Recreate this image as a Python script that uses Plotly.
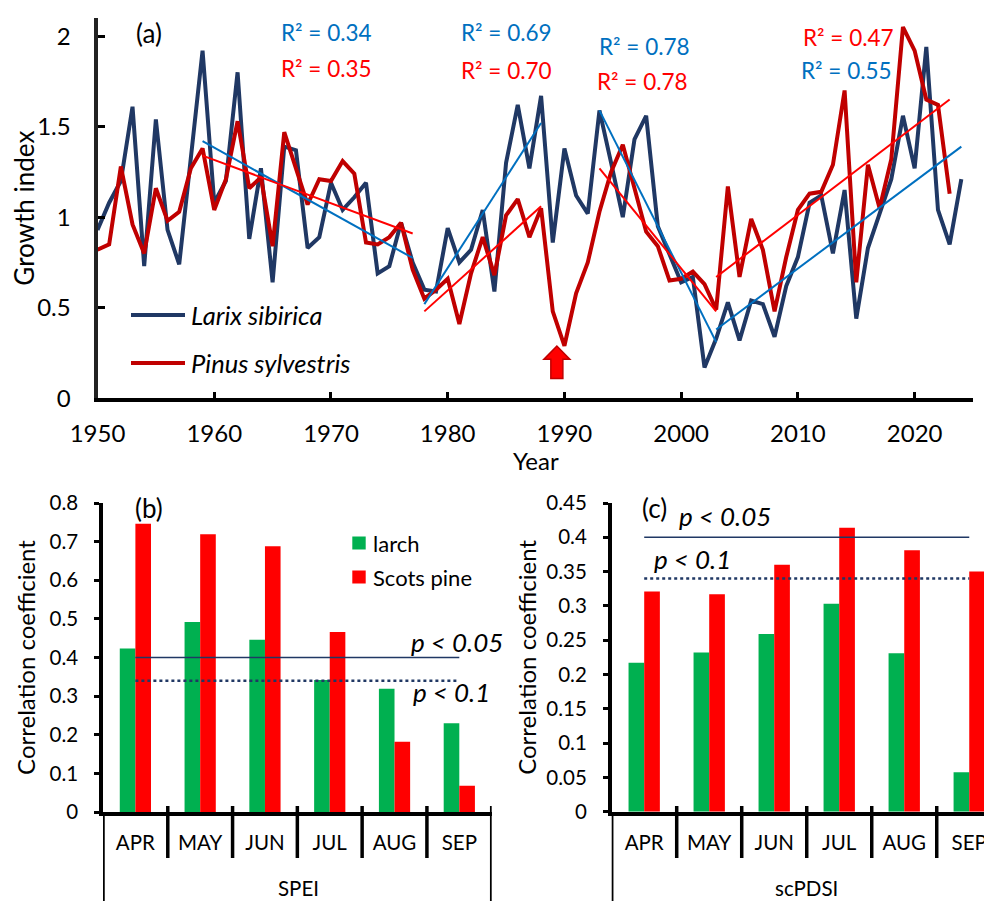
import plotly.graph_objects as go

# ---------------- data: panel (a) ----------------
years_larix = list(range(1950, 2025))
larix = [0.93, 1.08, 1.20, 1.61, 0.73, 1.54, 0.93, 0.74, 1.33, 1.92,
         1.08, 1.20, 1.80, 0.88, 1.27, 0.64, 1.39, 1.37, 0.83, 0.89,
         1.19, 1.04, 1.11, 1.19, 0.69, 0.73, 0.97, 0.75, 0.60, 0.59,
         0.94, 0.75, 0.82, 1.04, 0.59, 1.30, 1.62, 1.27, 1.67, 0.86,
         1.38, 1.12, 1.02, 1.59, 1.30, 1.00, 1.43, 1.56, 0.95, 0.80,
         0.64, 0.67, 0.17, 0.33, 0.53, 0.32, 0.54, 0.52, 0.34, 0.62,
         0.78, 1.08, 1.12, 0.80, 1.15, 0.44, 0.83, 1.02, 1.21, 1.56,
         1.27, 1.94, 1.04, 0.85, 1.21]
years_pinus = list(range(1950, 2024))
pinus = [0.82, 0.85, 1.28, 0.96, 0.80, 1.16, 0.98, 1.03, 1.27, 1.38,
         1.04, 1.21, 1.53, 1.16, 1.22, 0.84, 1.47, 1.27, 1.07, 1.21,
         1.20, 1.31, 1.24, 0.86, 0.85, 0.89, 0.97, 0.71, 0.55, 0.60,
         0.66, 0.41, 0.69, 0.89, 0.68, 1.01, 1.10, 0.89, 1.05, 0.48,
         0.29, 0.58, 0.75, 1.03, 1.25, 1.40, 1.15, 0.92, 0.84, 0.65,
         0.66, 0.70, 0.63, 0.49, 1.17, 0.67, 0.99, 0.82, 0.48, 0.78,
         1.04, 1.13, 1.14, 1.29, 1.70, 0.64, 1.29, 1.05, 1.32, 2.05,
         1.92, 1.65, 1.62, 1.13]

# linear trends (segment start/end years and fitted values)
larix_trend_x0 = [1959, 1978, 1993, 2003]
larix_trend_x1 = [1977, 1988, 2003, 2024]
larix_trend_y0 = [1.42, 0.52, 1.59, 0.38]
larix_trend_y1 = [0.775, 1.52, 0.31, 1.39]
pinus_trend_x0 = [1959, 1978, 1993, 2003]
pinus_trend_x1 = [1977, 1988, 2003, 2023]
pinus_trend_y0 = [1.34, 0.48, 1.27, 0.67]
pinus_trend_y1 = [0.91, 1.06, 0.48, 1.65]

larix_r2 = ["0.34", "0.69", "0.78", "0.55"]
pinus_r2 = ["0.35", "0.70", "0.78", "0.47"]
larix_r2_x = [1969.6, 1985.0, 1996.9, 2014.2]
larix_r2_y = [2.02, 2.02, 1.94, 1.81]
pinus_r2_x = [1969.6, 1985.0, 1996.65, 2014.3]
pinus_r2_y = [1.82, 1.81, 1.75, 1.99]

# ---------------- data: panels (b) and (c) ----------------
months = ["APR", "MAY", "JUN", "JUL", "AUG", "SEP"]
spei_larch = [0.423, 0.492, 0.446, 0.342, 0.319, 0.230]
spei_pine = [0.746, 0.719, 0.688, 0.466, 0.182, 0.068]
pdsi_larch = [0.217, 0.232, 0.259, 0.303, 0.231, 0.0575]
pdsi_pine = [0.321, 0.317, 0.360, 0.414, 0.381, 0.350]
p05_level = 0.40
p10_level = 0.34

NAVY = "#203864"
DRED = "#C00000"
TBLUE = "#0070C0"
TRED = "#FF0000"
GREEN = "#00B050"
FONT = "Lato"

# the page body has an 8px margin, so the figure is drawn 8px smaller and
# all positions below are given in window pixels of the 992x901 reference
OFF = 8
W, H = 992 - OFF, 901 - OFF


def px(x):
    return (x - OFF) / W


def py(y):
    return 1 - (y - OFF) / H


fig = go.Figure()

# ---- panel (a) lines ----
fig.add_trace(go.Scatter(x=years_larix, y=larix, mode="lines",
                         line=dict(color=NAVY, width=4), name="Larix sibirica",
                         xaxis="x", yaxis="y", showlegend=False))
fig.add_trace(go.Scatter(x=years_pinus, y=pinus, mode="lines",
                         line=dict(color=DRED, width=4), name="Pinus sylvestris",
                         xaxis="x", yaxis="y", showlegend=False))
for i in range(len(larix_trend_x0)):
    fig.add_trace(go.Scatter(x=[larix_trend_x0[i], larix_trend_x1[i]],
                             y=[larix_trend_y0[i], larix_trend_y1[i]],
                             mode="lines", line=dict(color=TBLUE, width=2),
                             xaxis="x", yaxis="y", showlegend=False))
    fig.add_trace(go.Scatter(x=[pinus_trend_x0[i], pinus_trend_x1[i]],
                             y=[pinus_trend_y0[i], pinus_trend_y1[i]],
                             mode="lines", line=dict(color=TRED, width=2),
                             xaxis="x", yaxis="y", showlegend=False))

# ---- panel (b) bars ----
fig.add_trace(go.Bar(x=months, y=spei_larch, marker=dict(color=GREEN, line=dict(width=0)),
                     name="larch", xaxis="x2", yaxis="y2", offsetgroup="a", showlegend=False))
fig.add_trace(go.Bar(x=months, y=spei_pine, marker=dict(color=TRED, line=dict(width=0)),
                     name="Scots pine", xaxis="x2", yaxis="y2", offsetgroup="b", showlegend=False))
fig.add_trace(go.Scatter(x=[months[0], months[-1]], y=[p05_level, p05_level], mode="lines",
                         line=dict(color=NAVY, width=1.5), xaxis="x2", yaxis="y2", showlegend=False))
fig.add_trace(go.Scatter(x=[months[0], months[-1]], y=[p10_level, p10_level], mode="lines",
                         line=dict(color=NAVY, width=2.5, dash="dot"), xaxis="x2", yaxis="y2",
                         showlegend=False))

# ---- panel (c) bars ----
fig.add_trace(go.Bar(x=months, y=pdsi_larch, marker=dict(color=GREEN, line=dict(width=0)),
                     name="larch", xaxis="x3", yaxis="y3", offsetgroup="a", showlegend=False))
fig.add_trace(go.Bar(x=months, y=pdsi_pine, marker=dict(color=TRED, line=dict(width=0)),
                     name="Scots pine", xaxis="x3", yaxis="y3", offsetgroup="b", showlegend=False))
fig.add_trace(go.Scatter(x=[months[0], months[-1]], y=[p05_level, p05_level], mode="lines",
                         line=dict(color=NAVY, width=1.5), xaxis="x3", yaxis="y3", showlegend=False))
fig.add_trace(go.Scatter(x=[months[0], months[-1]], y=[p10_level, p10_level], mode="lines",
                         line=dict(color=NAVY, width=2.5, dash="dot"), xaxis="x3", yaxis="y3",
                         showlegend=False))

tickfont_a = dict(family=FONT, size=24, color="black")
tickfont_b = dict(family=FONT, size=20.5, color="black")

fig.update_layout(
    template="none",
    width=W, height=H,
    margin=dict(l=0, r=0, t=0, b=0, pad=0, autoexpand=False),
    paper_bgcolor="white", plot_bgcolor="white",
    font=dict(family=FONT, color="black"),
    barmode="group", bargap=0.518, bargroupgap=0,
    showlegend=False,
    xaxis=dict(domain=[px(97.5), px(973)], range=[1950, 2025], anchor="y", automargin=False,
               tickvals=[1950, 1960, 1970, 1980, 1990, 2000, 2010, 2020],
               ticks="inside", ticklen=7, tickwidth=3, tickcolor="black",
               showline=True, linewidth=3.5, linecolor="black",
               showgrid=False, zeroline=False, tickfont=tickfont_a,
               ticklabelstandoff=11),
    yaxis=dict(domain=[py(398.3), py(18)], range=[0, 2.1], anchor="x", automargin=False,
               tickvals=[0, 0.5, 1, 1.5, 2], ticktext=["0", "0.5", "1", "1.5", "2"],
               ticks="inside", ticklen=7, tickwidth=3, tickcolor="black",
               showline=True, linewidth=4, linecolor="#222222",
               showgrid=False, zeroline=False, tickfont=tickfont_a,
               ticklabelstandoff=18,
               title=dict(text="Growth index", font=dict(family=FONT, size=26), standoff=3)),
    xaxis2=dict(domain=[px(103), px(491.7)], type="category", range=[-0.5, 5.5], anchor="y2",
                automargin=False,
                ticks="", showline=True, linewidth=3.5, linecolor="black",
                showgrid=False, zeroline=False, tickfont=tickfont_b, ticklabelstandoff=10),
    yaxis2=dict(domain=[py(812), py(503)], range=[0, 0.8], dtick=0.1, anchor="x2", automargin=False,
                ticks="outside", ticklen=5, tickwidth=3, tickcolor="black",
                showline=True, linewidth=3.5, linecolor="black",
                showgrid=False, zeroline=False, tickfont=tickfont_b, ticklabelstandoff=12,
                title=dict(text="Correlation coefficient", font=dict(family=FONT, size=24), standoff=8)),
    xaxis3=dict(domain=[px(611.7), 1.0], type="category", range=[-0.5, 5.35], anchor="y3",
                automargin=False,
                ticks="", showline=True, linewidth=3.5, linecolor="black",
                showgrid=False, zeroline=False, tickfont=tickfont_b, ticklabelstandoff=10),
    yaxis3=dict(domain=[py(811.7), py(503)], range=[0, 0.45], dtick=0.05, anchor="x3",
                automargin=False,
                ticks="outside", ticklen=5, tickwidth=3, tickcolor="black",
                showline=True, linewidth=3.5, linecolor="black",
                showgrid=False, zeroline=False, tickfont=tickfont_b, ticklabelstandoff=12,
                title=dict(text="Correlation coefficient", font=dict(family=FONT, size=24), standoff=4)),
)

shapes = []
annots = []


def text(x, y, s, size, color="black", xanchor="center", xref="paper", yref="paper"):
    return dict(xref=xref, yref=yref, x=x, y=y, text=s, showarrow=False,
                xanchor=xanchor, yanchor="middle",
                font=dict(family=FONT, size=size, color=color))


# x-axis title of panel (a)
annots.append(text(px(536), py(460), "Year", 24))

# legend for panel (a)
for ypos, col, label in [(315, NAVY, "Larix sibirica"), (363, DRED, "Pinus sylvestris")]:
    shapes.append(dict(type="line", xref="paper", yref="paper", x0=px(131), x1=px(185),
                       y0=py(ypos), y1=py(ypos), line=dict(color=col, width=4)))
    annots.append(text(px(189), py(ypos), "<i>" + label + "</i>", 25.5, xanchor="left"))

# R² labels
for i in range(4):
    annots.append(text(larix_r2_x[i], larix_r2_y[i], "R² = " + larix_r2[i], 22.5,
                       color=TBLUE, xref="x", yref="y"))
    annots.append(text(pinus_r2_x[i], pinus_r2_y[i], "R² = " + pinus_r2[i], 22.5,
                       color=TRED, xref="x", yref="y"))

# red arrow marking 1990
arrow_x, arrow_tip, arrow_base, arrow_bottom = 1989.35, 0.289, 0.215, 0.110
hw, bw = 1.115, 0.515
path = ("M {bl},{bot} L {bl},{hb} L {hl},{hb} L {tx},{tip} L {hr},{hb} L {br},{hb} L {br},{bot} Z"
        .format(bl=arrow_x - bw, br=arrow_x + bw, hl=arrow_x - hw, hr=arrow_x + hw,
                tx=arrow_x, tip=arrow_tip, hb=arrow_base, bot=arrow_bottom))
shapes.append(dict(type="path", xref="x", yref="y", path=path, fillcolor=TRED,
                   line=dict(color=DRED, width=1.5)))

annots.append(text(px(148.5), py(33), "(a)", 26))
annots.append(text(px(149), py(508), "(b)", 26))
annots.append(text(px(654), py(508), "(c)", 26))

# legend for panel (b)
for ypos, col, label in [(543, GREEN, "larch"), (577, TRED, "Scots pine")]:
    shapes.append(dict(type="rect", xref="paper", yref="paper", x0=px(352.3), x1=px(365.7),
                       y0=py(ypos - 6.5), y1=py(ypos + 6.5), fillcolor=col, line=dict(width=0)))
    annots.append(text(px(371), py(ypos), label, 22, xanchor="left"))

# significance labels
annots.append(text(px(409), py(642), "<i>p &lt; 0.05</i>", 26, xanchor="left"))
annots.append(text(px(411), py(692), "<i>p &lt; 0.1</i>", 26, xanchor="left"))
annots.append(text(px(677), py(516), "<i>p &lt; 0.05</i>", 26, xanchor="left"))
annots.append(text(px(652), py(559), "<i>p &lt; 0.1</i>", 26, xanchor="left"))

# category group labels
annots.append(text(px(298), py(888), "SPEI", 20.5))
annots.append(text(px(806.7), py(888), "scPDSI", 20.5))

# category separators below bar charts
for xr in ["x2", "x3"]:
    for b in [0.5, 1.5, 2.5, 3.5, 4.5]:
        shapes.append(dict(type="line", xref=xr, yref="paper", x0=b, x1=b,
                           y0=py(806), y1=py(858), line=dict(color="black", width=3.5)))
    shapes.append(dict(type="line", xref=xr, yref="paper", x0=-0.5, x1=-0.5,
                       y0=py(812), y1=0, line=dict(color="black", width=3.5)))
shapes.append(dict(type="line", xref="x2", yref="paper", x0=5.5, x1=5.5,
                   y0=py(806), y1=0, line=dict(color="black", width=3.5)))

fig.update_layout(shapes=shapes, annotations=annots)

fig.write_html("out.html")
